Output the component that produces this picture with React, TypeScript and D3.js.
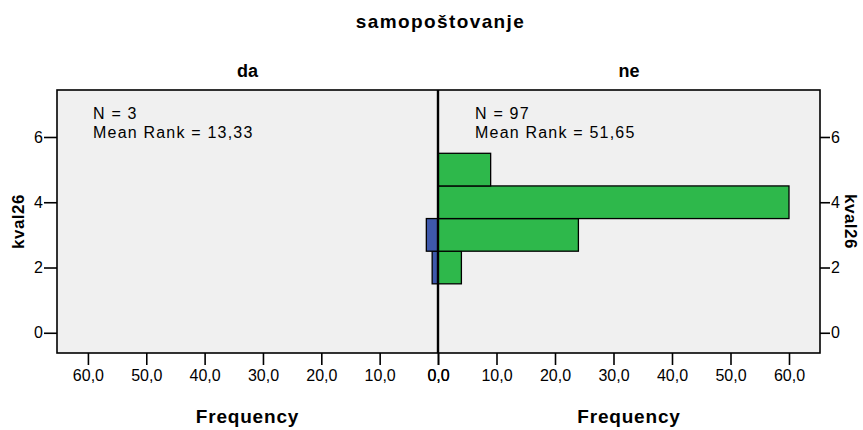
import * as d3 from 'd3'
import * as React from 'react'

//------------------------------data------------------------------
const groups = ['da', 'ne']
const groupN = [3, 97]
const meanRanks = ['13,33', '51,65']
const kval26Levels = [2, 3, 4, 5]
const daFreq = [1, 2, 0, 0]
const neFreq = [4, 24, 60, 9]
const xTicks = [0, 10, 20, 30, 40, 50, 60]
const yTicks = [0, 2, 4, 6]

const WIDTH = 863
const HEIGHT = 430
const FONT = '"Liberation Sans", Arial, Helvetica, sans-serif'
const GREEN = '#2eb84b'
const BLUE = '#3e58ab'
const BG = '#f0f0f0'

// plot box
const LEFT = 57
const RIGHT = 820
const TOP = 90
const BOTTOM = 353
const MID = 438

const fmt = (d: number) => d.toFixed(1).replace('.', ',')

//------------------------------drawChart------------------------------
const drawChart = (svgRef: React.RefObject<SVGSVGElement | null>) => {
  if (!svgRef.current) return
  const svg = d3.select(svgRef.current)
  svg.selectAll('*').remove()

  const xMax = 65.3
  const xLeft = d3.scaleLinear().domain([0, xMax]).range([MID, LEFT])
  const xRight = d3.scaleLinear().domain([0, xMax]).range([MID, RIGHT])
  const y = d3.scaleLinear().domain([-0.62, 7.44]).range([BOTTOM, TOP])

  // panel backgrounds
  svg
    .append('rect')
    .attr('x', LEFT)
    .attr('y', TOP)
    .attr('width', RIGHT - LEFT)
    .attr('height', BOTTOM - TOP)
    .attr('fill', BG)

  // bars
  const rows = kval26Levels.map((lvl, i) => ({ lvl, da: daFreq[i], ne: neFreq[i] }))
  svg
    .append('g')
    .selectAll('rect')
    .data(rows.filter(r => r.da > 0))
    .join('rect')
    .attr('x', d => xLeft(d.da))
    .attr('y', d => y(d.lvl + 0.5))
    .attr('width', d => xLeft(0) - xLeft(d.da))
    .attr('height', d => y(d.lvl - 0.5) - y(d.lvl + 0.5))
    .attr('fill', BLUE)
    .attr('stroke', '#000')
    .attr('stroke-width', 1.3)

  svg
    .append('g')
    .selectAll('rect')
    .data(rows.filter(r => r.ne > 0))
    .join('rect')
    .attr('x', xRight(0))
    .attr('y', d => y(d.lvl + 0.5))
    .attr('width', d => xRight(d.ne) - xRight(0))
    .attr('height', d => y(d.lvl - 0.5) - y(d.lvl + 0.5))
    .attr('fill', GREEN)
    .attr('stroke', '#000')
    .attr('stroke-width', 1.3)

  // frame + divider
  svg
    .append('rect')
    .attr('x', LEFT)
    .attr('y', TOP)
    .attr('width', RIGHT - LEFT)
    .attr('height', BOTTOM - TOP)
    .attr('fill', 'none')
    .attr('stroke', '#000')
    .attr('stroke-width', 1.6)
  svg
    .append('line')
    .attr('x1', MID)
    .attr('x2', MID)
    .attr('y1', TOP)
    .attr('y2', BOTTOM)
    .attr('stroke', '#000')
    .attr('stroke-width', 2.4)

  // axes
  const styleAxis = (g: d3.Selection<SVGGElement, unknown, null, undefined>) => {
    g.select('.domain').remove()
    g.selectAll('line').attr('stroke', '#000').attr('stroke-width', 1.6)
    g.selectAll('text')
      .attr('fill', '#000')
      .style('font-family', FONT)
      .style('font-size', '16px')
  }

  svg
    .append('g')
    .attr('transform', `translate(0,${BOTTOM})`)
    .call(d3.axisBottom(xLeft).tickValues(xTicks).tickSize(12).tickPadding(5).tickFormat(d => fmt(+d)))
    .call(styleAxis)
  svg
    .append('g')
    .attr('transform', `translate(0,${BOTTOM})`)
    .call(d3.axisBottom(xRight).tickValues(xTicks).tickSize(12).tickPadding(5).tickFormat(d => fmt(+d)))
    .call(styleAxis)
  svg
    .append('g')
    .attr('transform', `translate(${LEFT},0)`)
    .call(d3.axisLeft(y).tickValues(yTicks).tickSize(13).tickPadding(1).tickFormat(d => `${d}`))
    .call(styleAxis)
  svg
    .append('g')
    .attr('transform', `translate(${RIGHT},0)`)
    .call(d3.axisRight(y).tickValues(yTicks).tickSize(10).tickPadding(1).tickFormat(d => `${d}`))
    .call(styleAxis)

  // titles
  const text = (x: number, yy: number, s: string, size: number, bold: boolean, spacing = 0) =>
    svg
      .append('text')
      .attr('x', x)
      .attr('y', yy)
      .attr('text-anchor', 'middle')
      .style('font-family', FONT)
      .style('font-size', `${size}px`)
      .style('font-weight', bold ? 'bold' : 'normal')
      .style('letter-spacing', `${spacing}px`)
      .attr('fill', '#000')
      .text(s)

  text((LEFT + RIGHT) / 2 + 2, 28, 'samopoštovanje', 19, true, 1.4)
  const panelCenters = [(LEFT + MID) / 2, (MID + RIGHT) / 2]
  groups.forEach((g, i) => {
    text(panelCenters[i], 77, g, 18, true)
    text(panelCenters[i], 423, 'Frequency', 19, true, 0.8)
  })

  // N / mean rank annotations
  const annX = [93, 475]
  groups.forEach((_, i) => {
    const t = svg
      .append('text')
      .style('font-family', FONT)
      .style('font-size', '16px')
      .style('letter-spacing', '1.2px')
      .attr('fill', '#000')
    t.append('tspan').attr('x', annX[i]).attr('y', 119).text(`N = ${groupN[i]}`)
    t.append('tspan').attr('x', annX[i]).attr('y', 138).text(`Mean Rank = ${meanRanks[i]}`)
  })

  // y axis labels
  const midY = (TOP + BOTTOM) / 2
  svg
    .append('text')
    .attr('transform', `translate(24,${midY}) rotate(-90)`)
    .attr('text-anchor', 'middle')
    .style('font-family', FONT)
    .style('font-size', '17px')
    .style('font-weight', 'bold')
    .style('letter-spacing', '0.5px')
    .text('kval26')
  svg
    .append('text')
    .attr('transform', `translate(845,${midY}) rotate(90)`)
    .attr('text-anchor', 'middle')
    .style('font-family', FONT)
    .style('font-size', '17px')
    .style('font-weight', 'bold')
    .style('letter-spacing', '0.5px')
    .text('kval26')
}

//------------------------------Component------------------------------
export default function App() {
  const chartSvg = React.useRef<SVGSVGElement>(null)

  React.useEffect(() => {
    drawChart(chartSvg)
  }, [])

  return (
    <svg
      ref={chartSvg}
      width={WIDTH}
      height={HEIGHT}
      style={{ position: 'absolute', left: 0, top: 0, background: '#fff' }}
    />
  )
}
